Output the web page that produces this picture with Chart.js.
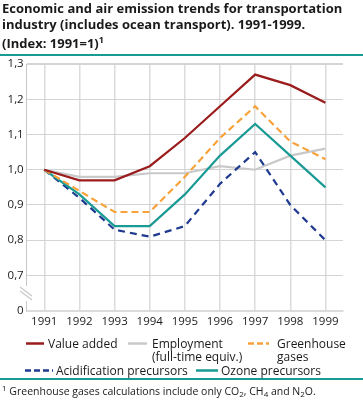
<!DOCTYPE html>
<html>
<head>
<meta charset="utf-8">
<script src="https://cdn.jsdelivr.net/npm/chart.js@4"></script>
<style>
  body { margin: 0; background: #fff; font-family: "Open Sans", sans-serif; color: #1a1a1a; }
  #wrap { position: relative; width: 363px; height: 401px; overflow: hidden; }
  #chart { position: absolute; left: 0; top: 0; }
  #title { position: absolute; left: 2px; top: 1px; font-weight: bold; font-size: 13px; line-height: 15.5px; }
  .rule { position: absolute; left: 0; width: 363px; height: 2px; background: #1a9a94; }
  .leg { position: absolute; font-size: 12px; line-height: 13px; white-space: nowrap; }
  .leg svg { position: absolute; top: 0; }
  #note { position: absolute; left: 2px; top: 384px; font-size: 10.5px; }
  #note sub { font-size: 8px; vertical-align: -2px; line-height: 0; }
  #note sup { font-size: 8px; line-height: 0; }
</style>
</head>
<body>
<div id="wrap">
  <canvas id="chart" width="363" height="401"></canvas>
  <div id="title">Economic and air emission trends for transportation<br>industry (includes ocean transport). 1991-1999.<br>(Index: 1991=1)<sup style="font-size:9px">1</sup></div>
  <div class="rule" style="top:54px"></div>
  <div id="legend"></div>
  <div class="rule" style="top:378px"></div>
  <div id="note"><sup>1</sup> Greenhouse gases calculations include only CO<sub>2</sub>, CH<sub>4</sub> and N<sub>2</sub>O.</div>
</div>
<script>
// --- DATI ---
const anni = ['1991', '1992', '1993', '1994', '1995', '1996', '1997', '1998', '1999'];
const valoreAggiunto = [1.00, 0.97, 0.97, 1.01, 1.09, 1.18, 1.27, 1.24, 1.19];
const occupazione = [1.00, 0.98, 0.98, 0.99, 0.99, 1.01, 1.00, 1.04, 1.06];
const gasSerra = [1.00, 0.94, 0.88, 0.88, 0.98, 1.09, 1.18, 1.08, 1.03];
const acidificazione = [1.00, 0.92, 0.83, 0.81, 0.84, 0.96, 1.05, 0.90, 0.80];
const ozono = [1.00, 0.93, 0.84, 0.84, 0.93, 1.04, 1.13, 1.04, 0.95];
const tickY = [0.6, 0.7, 0.8, 0.9, 1.0, 1.1, 1.2, 1.3]; // 0.6 viene mostrato come "0" (asse spezzato)

// --- SERIE ---
const serie = [
    { label: ['Value added'], data: valoreAggiunto, color: '#9b1c1c', dash: [], order: 1 },
    { label: ['Employment', '(full-time equiv.)'], data: occupazione, color: '#c9c9c9', dash: [], order: 5 },
    { label: ['Greenhouse', 'gases'], data: gasSerra, color: '#f7a23b', dash: [7, 4], order: 2 },
    { label: ['Acidification precursors'], data: acidificazione, color: '#1f3a8f', dash: [7, 5], order: 4 },
    { label: ['Ozone precursors'], data: ozono, color: '#1a9a94', dash: [], order: 3 }
];

// posizioni della legenda (x swatch, larghezza swatch, x testo, y)
const posLegenda = [
    [26, 18, 48, 337], [128, 19, 152, 337], [248, 21, 277, 337],
    [25, 28, 56, 364], [196, 22, 221, 364]
];

// --- LEGENDA HTML ---
const boxLegenda = document.getElementById('legend');
serie.forEach((s, i) => {
    const [sx, sw, tx, ty] = posLegenda[i];
    const el = document.createElement('div');
    el.className = 'leg';
    el.style.left = sx + 'px';
    el.style.top = ty + 'px';
    el.innerHTML = `<svg width="${sw}" height="13" style="left:0"><line x1="0" y1="6.5" x2="${sw}" y2="6.5" stroke="${s.color}" stroke-width="2.5" stroke-dasharray="${s.dash.length ? '6,3' : 'none'}"/></svg>` +
        `<div style="position:absolute;left:${tx - sx}px;top:0">${s.label.join('<br>')}</div>`;
    boxLegenda.appendChild(el);
});

// --- PLUGIN: simbolo di asse spezzato ---
const asseSpezzato = {
    id: 'asseSpezzato',
    afterDraw(chart) {
        const c = chart.ctx;
        const x = chart.chartArea.left;
        c.save();
        c.fillStyle = '#fff';
        c.fillRect(x - 2, 286, 4, 15);
        c.strokeStyle = '#c8c8c8';
        c.lineWidth = 1.2;
        c.beginPath();
        c.moveTo(20, 287); c.lineTo(32, 296);
        c.moveTo(20, 291); c.lineTo(32, 300);
        c.stroke();
        c.restore();
    }
};

const ctx = document.getElementById('chart').getContext('2d');
new Chart(ctx, {
    type: 'line',
    data: {
        labels: anni,
        datasets: serie.map(s => ({
            label: s.label.join(' '),
            data: s.data,
            borderColor: s.color,
            borderDash: s.dash,
            borderWidth: 2.2,
            pointRadius: 0,
            tension: 0,
            fill: false,
            order: s.order
        }))
    },
    options: {
        responsive: false,
        animation: false,
        layout: { padding: { top: 64, right: 20, left: 0, bottom: 0 } },
        plugins: { legend: { display: false }, tooltip: { enabled: false } },
        scales: {
            x: {
                offset: true,
                grid: { color: '#dcdcdc', lineWidth: 1.5, offset: false, drawTicks: false },
                border: { color: '#dcdcdc', width: 2 },
                ticks: { color: '#1a1a1a', font: { family: 'Open Sans', size: 11.5 }, padding: 4, maxRotation: 0 },
                afterFit: s => { s.height = 90.3; }
            },
            y: {
                min: 0.6,
                max: 1.3,
                afterBuildTicks: s => { s.ticks = tickY.map(v => ({ value: v })); },
                grid: {
                    color: '#d4d4d4',
                    lineWidth: c => (c.tick && c.tick.value === 1.3 ? 2 : 1),
                    drawTicks: false
                },
                border: { color: '#c8c8c8', width: 1 },
                ticks: {
                    color: '#1a1a1a',
                    font: { family: 'Open Sans', size: 11.5 },
                    padding: 3,
                    callback: v => (Math.abs(v - 0.6) < 1e-6 ? '0' : v.toFixed(1).replace('.', ','))
                },
                afterFit: s => { s.width = 26.7; }
            }
        }
    },
    plugins: [asseSpezzato]
});
</script>
</body>
</html>
